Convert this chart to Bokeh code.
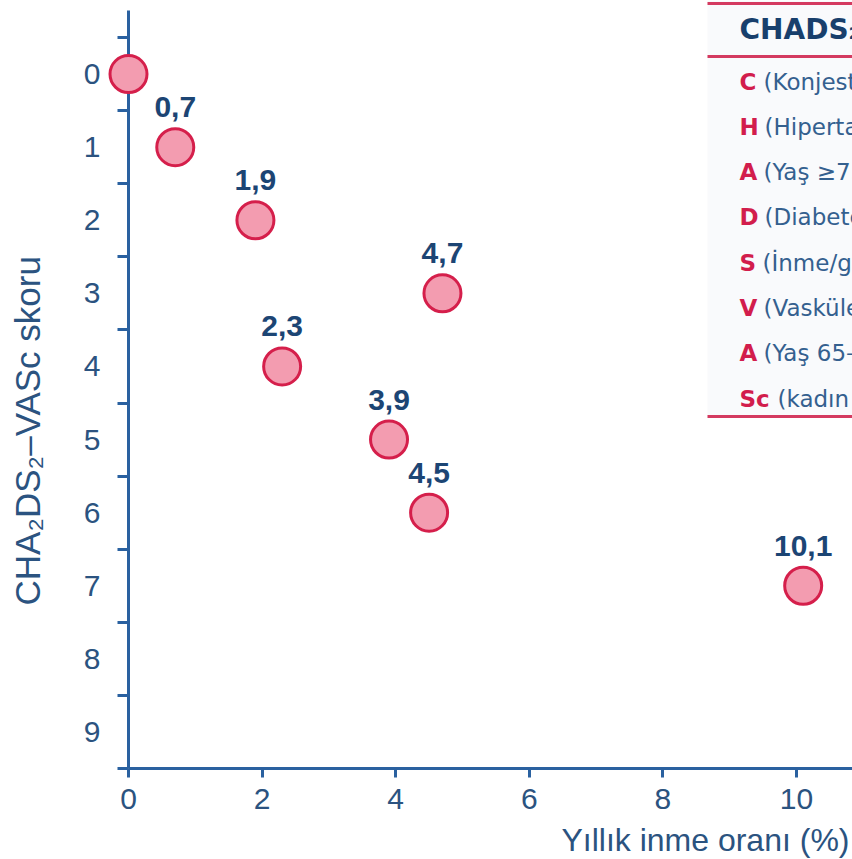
import math
from bokeh.plotting import figure
from bokeh.models import Range1d, FixedTicker, ColumnDataSource, BoxAnnotation
from bokeh.core.properties import value
from bokeh.embed import file_html
from bokeh.resources import INLINE

# CHA2DS2-VASc score against annual stroke rate (%)
scores = [0, 1, 2, 3, 4, 5, 6, 7]
stroke_rates = [0.0, 0.7, 1.9, 4.7, 2.3, 3.9, 4.5, 10.1]
rate_labels = ["", "0,7", "1,9", "4,7", "2,3", "3,9", "4,5", "10,1"]
score_ticks = [0, 1, 2, 3, 4, 5, 6, 7, 8, 9]
rate_ticks = [0, 2, 4, 6, 8, 10]

x_title = "Yıllık inme oranı (%)"
y_title = "CHA₂DS₂–VASc skoru"

# score legend panel
panel_title = "CHADS₂-VASc"
panel_letters = ["C", "H", "A", "D", "S", "V", "A", "Sc"]
panel_items = [
    "(Konjestif kalp yetmezliği)",
    "(Hipertansiyon)",
    "(Yaş ≥75)",
    "(Diabetes mellitus)",
    "(İnme/geçici iskemik atak)",
    "(Vasküler hastalık)",
    "(Yaş 65–74)",
    "(kadın cinsiyet)",
]

# page geometry (pixels)
W, H = 852, 859
FRAME_LEFT, FRAME_BOTTOM = 128, 768
X_PX_PER_UNIT = 66.8
Y_PX_PER_UNIT = 73.1
x_end = (W - FRAME_LEFT) / X_PX_PER_UNIT
y_bottom = 9.5
y_top = y_bottom - FRAME_BOTTOM / Y_PX_PER_UNIT


def sx(px):
    """screen x (px) -> data x"""
    return (px - FRAME_LEFT) / X_PX_PER_UNIT


def sy(px):
    """screen y (px) -> data y (inverted axis)"""
    return y_bottom - (FRAME_BOTTOM - px) / Y_PX_PER_UNIT


AXIS = "#2a61a0"
TICK_TEXT = "#2b5380"
LABEL_TEXT = "#1c4574"
FILL = "#f39cb0"
STROKE = "#d51f4b"
PANEL_RED = "#d43a60"
PANEL_LETTER = "#d21d4c"
PANEL_TEXT = "#34608f"
PANEL_HEAD = "#183f6c"
FONT = "Liberation Sans"
PANEL_FONT = "DejaVu Sans"

p = figure(
    width=W, height=H,
    x_range=Range1d(0, x_end), y_range=Range1d(y_bottom, y_top),
    output_backend="svg", toolbar_location=None,
    min_border_left=FRAME_LEFT, min_border_right=0,
    min_border_top=0, min_border_bottom=H - FRAME_BOTTOM,
    outline_line_color=None, background_fill_color="white",
    border_fill_color="white",
)
p.grid.visible = False

# x axis
xa = p.xaxis[0]
xa.ticker = FixedTicker(ticks=rate_ticks, minor_ticks=[])
xa.axis_line_color = AXIS
xa.axis_line_width = 3
xa.major_tick_line_color = AXIS
xa.major_tick_line_width = 3
xa.major_tick_out = 9
xa.major_tick_in = 0
xa.minor_tick_line_color = None
xa.major_label_text_font = FONT
xa.major_label_text_font_size = "30px"
xa.major_label_text_color = TICK_TEXT
xa.major_label_standoff = 11

# y axis: labels at integer scores, tick marks between them
ya = p.yaxis[0]
ya.ticker = FixedTicker(ticks=score_ticks, minor_ticks=[t - 0.5 for t in score_ticks] + [9.5])
ya.bounds = (sy(10), y_bottom)
ya.axis_line_color = AXIS
ya.axis_line_width = 3
ya.major_tick_line_color = None
ya.major_tick_out = 0
ya.major_tick_in = 0
ya.minor_tick_line_color = AXIS
ya.minor_tick_line_width = 3
ya.minor_tick_out = 11
ya.minor_tick_in = 0
ya.major_label_text_font = FONT
ya.major_label_text_font_size = "30px"
ya.major_label_text_color = TICK_TEXT
ya.major_label_standoff = 17

# axis titles: x title right-aligned under the axis, y title rotated at the left
p.text(x=[sx(849)], y=[sy(839)], text=[x_title], level="overlay",
       text_font=value(FONT), text_font_size="32px", text_color=TICK_TEXT,
       text_align="right", text_baseline="alphabetic")
p.text(x=[sx(27)], y=[sy(605)], text=[y_title], angle=math.pi / 2, level="overlay",
       text_font=value(FONT), text_font_size="35px", text_color=TICK_TEXT,
       text_align="left", text_baseline="middle")

# legend panel background and rules
p.add_layout(BoxAnnotation(left=sx(707), bottom=sy(416), fill_color="#f9fafc",
                           fill_alpha=1, line_color=None, level="underlay"))
rule_y = [sy(3), sy(56), sy(416)]
p.segment(x0=[sx(707)] * 3, x1=[x_end + 1] * 3, y0=rule_y, y1=rule_y,
          line_color=PANEL_RED, line_width=3)

p.text(x=[sx(739)], y=[sy(29)], text=[panel_title], text_font=value(PANEL_FONT),
       text_font_size="28px", text_font_style="bold", text_color=PANEL_HEAD,
       text_baseline="middle", text_align="left")

rows = ColumnDataSource(dict(
    x=[sx(739)] * len(panel_letters),
    y=[sy(81 + 45.3 * i) for i in range(len(panel_letters))],
    letter=panel_letters,
    item=panel_items,
    shift=[24, 25, 24, 25, 23, 24, 24, 38],
))
p.text(x="x", y="y", text="letter", source=rows, text_font=value(PANEL_FONT),
       text_font_size="23px", text_font_style="bold", text_color=PANEL_LETTER,
       text_baseline="middle", text_align="left")
p.text(x="x", y="y", text="item", source=rows, x_offset="shift", text_font=value(PANEL_FONT),
       text_font_size="23px", text_color=PANEL_TEXT,
       text_baseline="middle", text_align="left")

# data points and value labels
src = ColumnDataSource(dict(rate=stroke_rates, score=scores, label=rate_labels))
p.scatter(x="rate", y="score", source=src, size=37, fill_color=FILL,
          line_color=STROKE, line_width=3, level="overlay")
p.text(x="rate", y="score", text="label", source=src, y_offset=-40,
       text_font=value(FONT), text_font_size="30px", text_font_style="bold",
       text_color=LABEL_TEXT, text_align="center", text_baseline="alphabetic")

open("out.html", "w").write(file_html(p, INLINE))
